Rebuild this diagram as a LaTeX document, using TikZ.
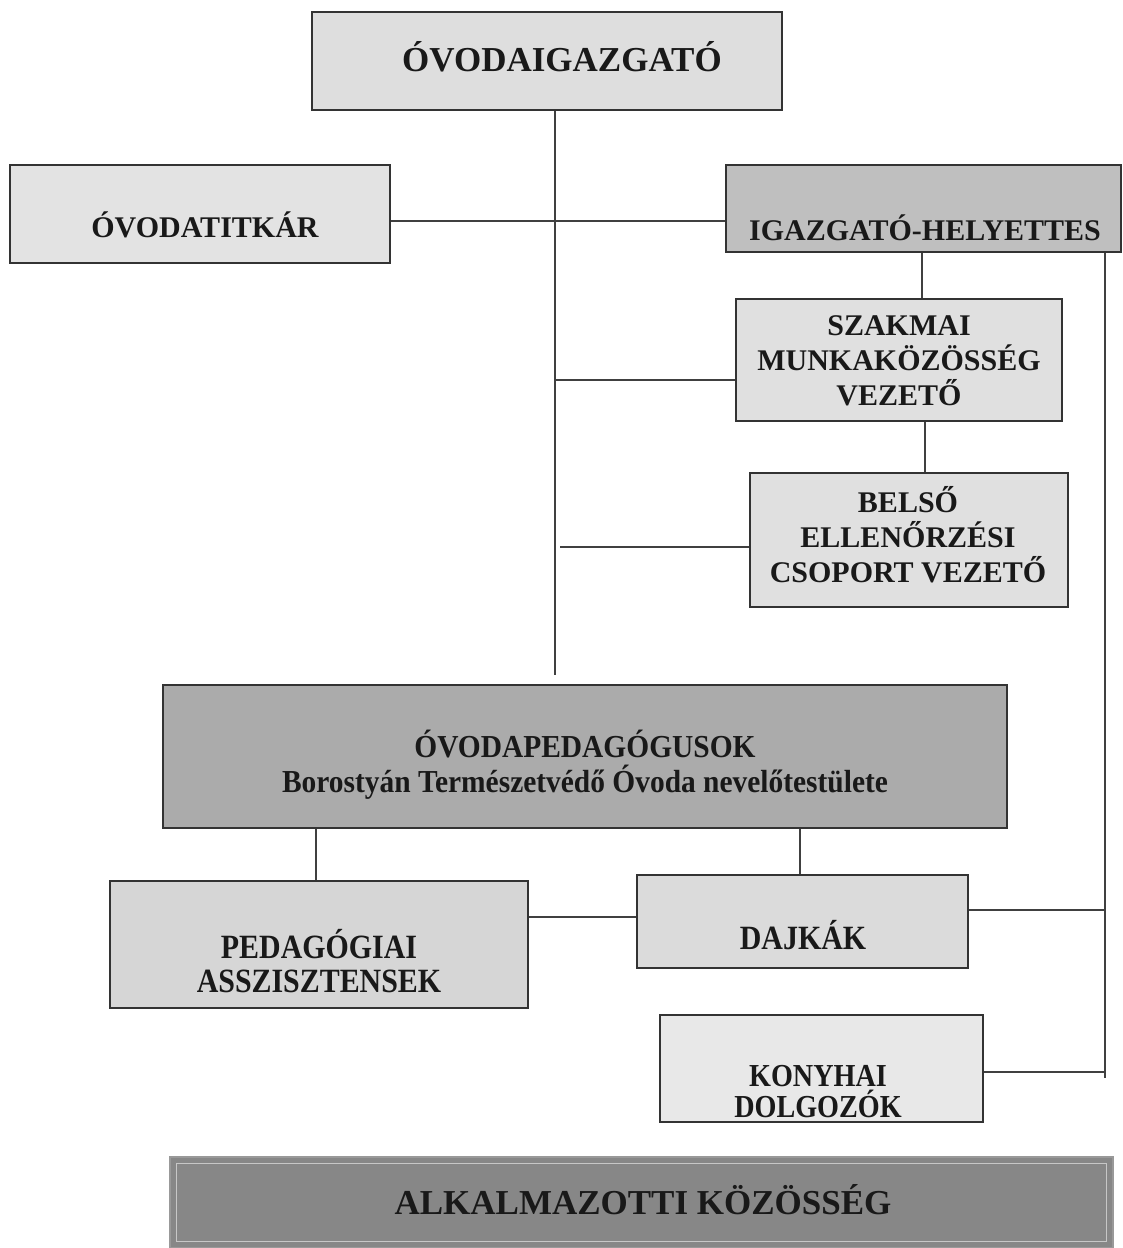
\documentclass[tikz,border=0pt]{standalone}
\usepackage{fontspec}
\setmainfont{Liberation Serif}
\newfontfamily\condfont[FakeStretch=0.88]{Liberation Serif}
\newfontfamily\semicondfont[FakeStretch=0.92]{Liberation Serif}
\begin{document}
\begin{tikzpicture}[x=1pt,y=-1pt,
  box/.style={draw=black!80, line width=1.3pt, inner sep=0pt},
  conn/.style={draw=black!75, line width=1.1pt},
  txt/.style={align=center, inner sep=0pt, text=black!90}]
\useasboundingbox (0,0) rectangle (1123,1248);
\fill[white] (0,0) rectangle (1123,1248);

% boxes
\node[box, fill=black!13, minimum width=470pt, minimum height=98pt] (igazgato) at (547,61) {};
\node[box, fill=black!11, minimum width=380pt, minimum height=98pt] (titkar) at (200,214) {};
\node[box, fill=black!25, minimum width=395pt, minimum height=87pt] (helyettes) at (923.5,208.5) {};
\node[box, fill=black!12, minimum width=326pt, minimum height=122pt] (szakmai) at (899,360) {};
\node[box, fill=black!12, minimum width=318pt, minimum height=134pt] (belso) at (909,540) {};
\node[box, fill=black!33, minimum width=844pt, minimum height=143pt] (ped) at (585,756.5) {};
\node[box, fill=black!16, minimum width=418pt, minimum height=127pt] (pedag) at (319,944.5) {};
\node[box, fill=black!14, minimum width=331pt, minimum height=93pt] (dajkak) at (802.5,921.5) {};
\node[box, fill=black!9, minimum width=323pt, minimum height=107pt] (konyhai) at (821.5,1068.5) {};
\node[box, draw=black!40, fill=black!47, minimum width=943pt, minimum height=91pt] (alk) at (641.5,1202.5) {};
\draw[black!22, line width=1.3pt] ([shift={(7pt,-7pt)}]alk.north west) rectangle ([shift={(-7pt,7pt)}]alk.south east);

% texts
\node[txt, font=\bfseries\fontsize{35}{40}\selectfont] (igazgatoT) at (562,57) {ÓVODAIGAZGATÓ};
\node[txt, font=\bfseries\fontsize{30}{35}\selectfont] (titkarT) at (205,225) {ÓVODATITKÁR};
\node[txt, font=\bfseries\fontsize{30}{35}\selectfont] (helyettesT) at (925,228) {IGAZGATÓ-HELYETTES};
\node[txt, font=\bfseries\fontsize{30}{35}\selectfont] (szakmaiT) at (899,361) {SZAKMAI\\MUNKAKÖZÖSSÉG\\VEZETŐ};
\node[txt, font=\bfseries\fontsize{30}{35}\selectfont] (belsoT) at (908,535) {BELSŐ\\ELLENŐRZÉSI\\CSOPORT VEZETŐ};
\node[txt, font=\semicondfont\bfseries\fontsize{32}{35}\selectfont] (pedT) at (585,765) {ÓVODAPEDAGÓGUSOK\\Borostyán Természetvédő Óvoda nevelőtestülete};
\node[txt, font=\condfont\bfseries\fontsize{34}{34}\selectfont] (pedagT) at (319,961) {PEDAGÓGIAI\\ASSZISZTENSEK};
\node[txt, font=\condfont\bfseries\fontsize{34}{34}\selectfont] (dajkakT) at (803,935) {DAJKÁK};
\node[txt, font=\condfont\bfseries\fontsize{32}{31}\selectfont] (konyhaiT) at (818,1092) {KONYHAI\\DOLGOZÓK};
\node[txt, font=\bfseries\fontsize{35}{40}\selectfont] (alkT) at (643,1200) {ALKALMAZOTTI KÖZÖSSÉG};

% helper coordinates
\coordinate (mainx) at (555,0);
\coordinate (mainbot) at (555,675);
\coordinate (y1) at (0,221);
\coordinate (j1) at (555,380);
\coordinate (j2) at (560,547);
\coordinate (v1) at (922,0);
\coordinate (v2) at (925,0);
\coordinate (rx) at (1105,0);
\coordinate (rbot) at (1105,1078);
\coordinate (yd) at (0,910);
\coordinate (yk) at (0,1072);
\coordinate (yp) at (0,917);
\coordinate (vp) at (316,0);
\coordinate (vd) at (800,0);

% connectors
\draw[conn] (igazgato.south -| mainx) -- (mainbot);
\draw[conn] (titkar.east |- y1) -- (helyettes.west |- y1);
\draw[conn] (j1) -- (j1 -| szakmai.west);
\draw[conn] (j2) -- (j2 -| belso.west);
\draw[conn] (helyettes.south -| v1) -- (szakmai.north -| v1);
\draw[conn] (szakmai.south -| v2) -- (belso.north -| v2);
\draw[conn] (helyettes.south -| rx) -- (rbot);
\draw[conn] (dajkak.east |- yd) -- (rx |- yd);
\draw[conn] (konyhai.east |- yk) -- (rx |- yk);
\draw[conn] (ped.south -| vp) -- (pedag.north -| vp);
\draw[conn] (ped.south -| vd) -- (dajkak.north -| vd);
\draw[conn] (pedag.east |- yp) -- (dajkak.west |- yp);
\end{tikzpicture}
\end{document}
